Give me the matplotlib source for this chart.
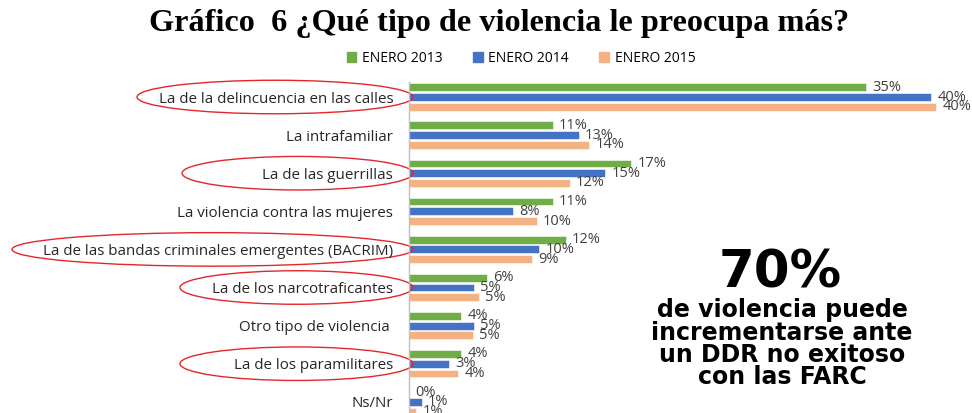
import numpy as np
import matplotlib
matplotlib.use("Agg")
import matplotlib.pyplot as plt
from matplotlib.patches import Patch, Ellipse
import matplotlib.transforms as mtransforms

#### Datos del grafico ####

categorias = ["La de la delincuencia en las calles",
              "La intrafamiliar",
              "La de las guerrillas",
              "La violencia contra las mujeres",
              "La de las bandas criminales emergentes (BACRIM)",
              "La de los narcotraficantes",
              "Otro tipo de violencia ",
              "La de los paramilitares",
              "Ns/Nr"]

enero_2013 = [34.9, 11.0, 17.0, 11.0, 12.0, 6.0, 4.0, 4.0, 0.0]
enero_2014 = [39.9, 13.0, 15.0, 8.0, 10.0, 5.0, 5.0, 3.1, 1.0]
enero_2015 = [40.3, 13.8, 12.3, 9.8, 9.4, 5.4, 4.9, 3.8, 0.6]

series = ["ENERO 2013", "ENERO 2014", "ENERO 2015"]
colores = ["#70AD47", "#4472C4", "#F4B183"]

# categorias marcadas con ovalo rojo y borde izquierdo del ovalo (px)
marcadas = [0, 2, 4, 5, 7]
ovalo_izq = [137, 182, 12, 180, 180]

titulo = "Gráfico  6 ¿Qué tipo de violencia le preocupa más?"
nota_grande = "70%"
nota_lineas = ["de violencia puede", "incrementarse ante",
               "un DDR no exitoso", "con las FARC"]

W, H = 972, 413

fig = plt.figure(figsize=(W/100, H/100), dpi=100)

# ejes: eje vertical en x=408.5px, cortado abajo por el borde
ax = fig.add_axes([408.5/W, 0, 551.5/W, (H-82)/H])

y = np.arange(len(categorias))
off = 0.255
hb = 0.205
datos = [enero_2013, enero_2014, enero_2015]
for k, (vals, col) in enumerate(zip(datos, colores)):
    yy = y + (k-1)*off
    ax.barh(yy, vals, height=hb, color=col, edgecolor="white", linewidth=0.4)
    for yi, v in zip(yy, vals):
        ax.annotate("%d%%" % round(v), xy=(v, yi), xytext=(4.5, 0),
                    textcoords="offset points", va="center", ha="left",
                    fontsize=10.5, color="#404040", family="Open Sans",
                    annotation_clip=False)

ax.set_xlim(0, 42.1)
ax.set_ylim(8.294, -0.394)
ax.set_xticks([])
ax.set_yticks(y)
ax.set_yticklabels(categorias, fontsize=10.9, family="Open Sans", color="#262626")
ax.tick_params(axis="y", length=0, pad=11)
for s in ["top", "right", "bottom"]:
    ax.spines[s].set_visible(False)
ax.spines["left"].set_color("#BFBFBF")
ax.spines["left"].set_linewidth(1.0)

# ovalos rojos
tr = mtransforms.blended_transform_factory(fig.transFigure, ax.transData)
for idx, xl in zip(marcadas, ovalo_izq):
    xr = 413
    e = Ellipse(((xl+xr)/2/W, idx), (xr-xl)/W, 0.88, transform=tr,
                fill=False, edgecolor="#E3262B", linewidth=1.0, clip_on=False)
    ax.add_patch(e)

# titulo
fig.text(499.5/W, 1-24/H, titulo, ha="center", va="center", fontsize=23.2,
         fontweight="bold", family="Liberation Serif")

# leyenda
handles = [Patch(color=c) for c in colores]
fig.legend(handles, series, loc="center", bbox_to_anchor=(521/W, 1-58/H),
           ncol=3, frameon=False, prop={"family": "Open Sans", "size": 10},
           handlelength=0.7, handleheight=0.7, handletextpad=0.4,
           columnspacing=2.2)

# nota a la derecha
fig.text(780/W, 1-273/H, nota_grande, ha="center", va="center", fontsize=37,
         fontweight="bold", family="DejaVu Sans")
for i, linea in enumerate(nota_lineas):
    fig.text(782/W, 1-(310+22.5*i)/H, linea, ha="center", va="center",
             fontsize=17, fontweight="bold", family="DejaVu Sans")

plt.savefig("out.png", dpi=100)
